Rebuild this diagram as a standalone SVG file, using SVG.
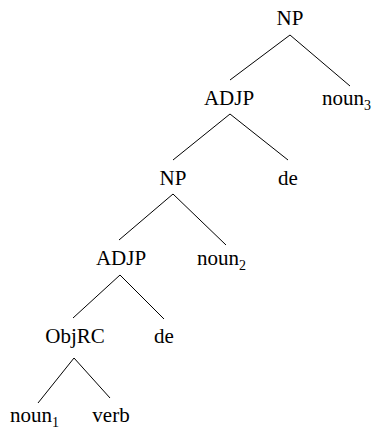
<svg xmlns="http://www.w3.org/2000/svg" width="378" height="430" viewBox="0 0 378 430">
<style>
text{font-family:"Liberation Serif","Times New Roman","DejaVu Serif",serif;font-size:21px;fill:#000}
.c{text-anchor:middle}
.sub{font-size:14px}
#edges line{stroke:#000;stroke-width:1}
</style>
<rect width="378" height="430" fill="#fff"/>
<g id="edges">
<line x1="290" y1="35" x2="230" y2="80"/>
<line x1="290" y1="35" x2="350" y2="86"/>
<line x1="230" y1="114" x2="173" y2="160"/>
<line x1="230" y1="114" x2="288" y2="160"/>
<line x1="173" y1="194" x2="119" y2="240"/>
<line x1="173" y1="194" x2="226" y2="245"/>
<line x1="120" y1="275" x2="73" y2="318"/>
<line x1="120" y1="275" x2="164" y2="319"/>
<line x1="74" y1="358" x2="38" y2="403"/>
<line x1="74" y1="358" x2="110" y2="398"/>
</g>
<g id="np1"><text class="c" x="290" y="25">NP</text></g>
<g id="adjp1"><text class="c" x="229" y="105">ADJP</text></g>
<g id="noun3"><text x="322" y="105">noun<tspan class="sub" dy="5">3</tspan></text></g>
<g id="np2"><text class="c" x="173" y="185">NP</text></g>
<g id="de1"><text class="c" x="288" y="185">de</text></g>
<g id="adjp2"><text class="c" x="121" y="265">ADJP</text></g>
<g id="noun2"><text x="197" y="265">noun<tspan class="sub" dy="5">2</tspan></text></g>
<g id="objrc"><text class="c" x="75" y="343">ObjRC</text></g>
<g id="de2"><text class="c" x="164" y="343">de</text></g>
<g id="noun1"><text x="10" y="422">noun<tspan class="sub" dy="5">1</tspan></text></g>
<g id="verb"><text class="c" x="111" y="422">verb</text></g>
</svg>
